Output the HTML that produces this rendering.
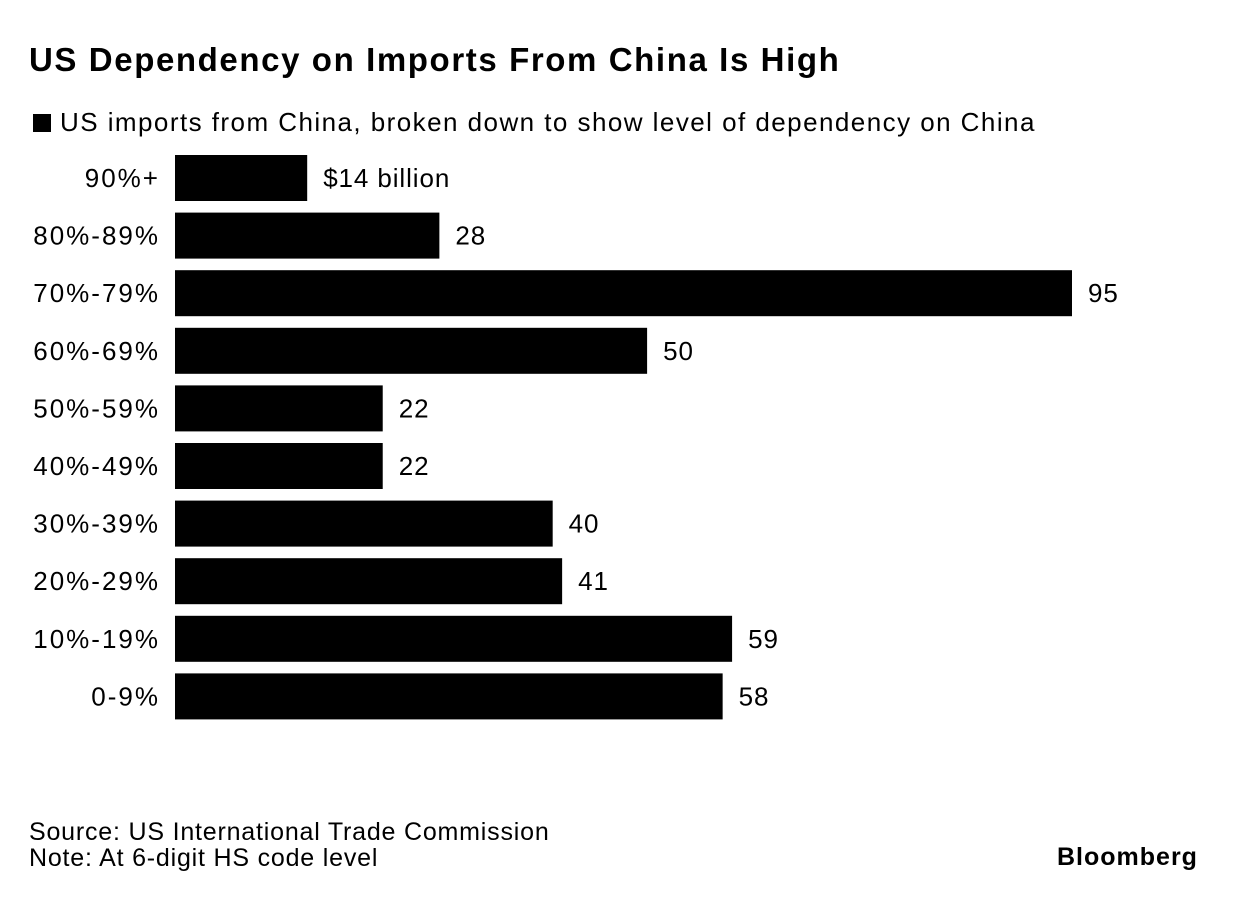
<!DOCTYPE html>
<html><head><meta charset="utf-8"><style>
body{margin:0;width:1237px;height:902px;background:#fff;font-family:"Liberation Sans",sans-serif;color:#000;position:relative;overflow:hidden}
.t{position:absolute;white-space:nowrap}
</style></head><body>
<div class="t" style="left:29px;top:41px;font-size:33px;font-weight:bold;letter-spacing:1.6px">US Dependency on Imports From China Is High</div>
<div class="t" style="left:33px;top:107px;font-size:26px;letter-spacing:1.45px"><span style="display:inline-block;width:18px;height:18px;background:#000;vertical-align:-1px;margin-right:9px"></span>US imports from China, broken down to show level of dependency on China</div>
<svg id="chart" width="1237" height="902" style="position:absolute;left:0;top:0"></svg>
<div class="t" style="left:29px;top:819px;font-size:25px;line-height:26px;letter-spacing:0.8px">Source: US International Trade Commission<br>Note: At 6-digit HS code level</div>
<div class="t" style="left:1057px;top:843px;font-size:25px;font-weight:bold;letter-spacing:1px">Bloomberg</div>
<script>
const categories=["90%+","80%-89%","70%-79%","60%-69%","50%-59%","40%-49%","30%-39%","20%-29%","10%-19%","0-9%"];
const values=[14,28,95,50,22,22,40,41,59,58];
const valueLabels=["$14 billion","28","95","50","22","22","40","41","59","58"];
const svg=document.getElementById('chart');
const NS="http://www.w3.org/2000/svg";
const x0=175,xScale=(1072-175)/95;
const y=i=>155+i*57.6;
const bh=46;
categories.forEach((c,i)=>{
 const r=document.createElementNS(NS,'rect');
 r.setAttribute('x',x0);r.setAttribute('y',y(i));
 r.setAttribute('width',values[i]*xScale);r.setAttribute('height',bh);
 r.setAttribute('fill','#000');
 
 
 svg.appendChild(r);
 const l=document.createElementNS(NS,'text');
 l.setAttribute('x',160);l.setAttribute('y',y(i)+bh/2+9);
 l.setAttribute('text-anchor','end');l.setAttribute('font-size','26');
 l.setAttribute('letter-spacing','2');
 l.setAttribute('font-family','Liberation Sans, sans-serif');
 l.textContent=c;
 
 
 svg.appendChild(l);
 const v=document.createElementNS(NS,'text');
 v.setAttribute('x',x0+values[i]*xScale+16);v.setAttribute('y',y(i)+bh/2+9);
 v.setAttribute('font-size','26');
 v.setAttribute('letter-spacing','0.9');
 v.setAttribute('font-family','Liberation Sans, sans-serif');
 v.textContent=valueLabels[i];
 
 
 svg.appendChild(v);
});
</script>
</body></html>
